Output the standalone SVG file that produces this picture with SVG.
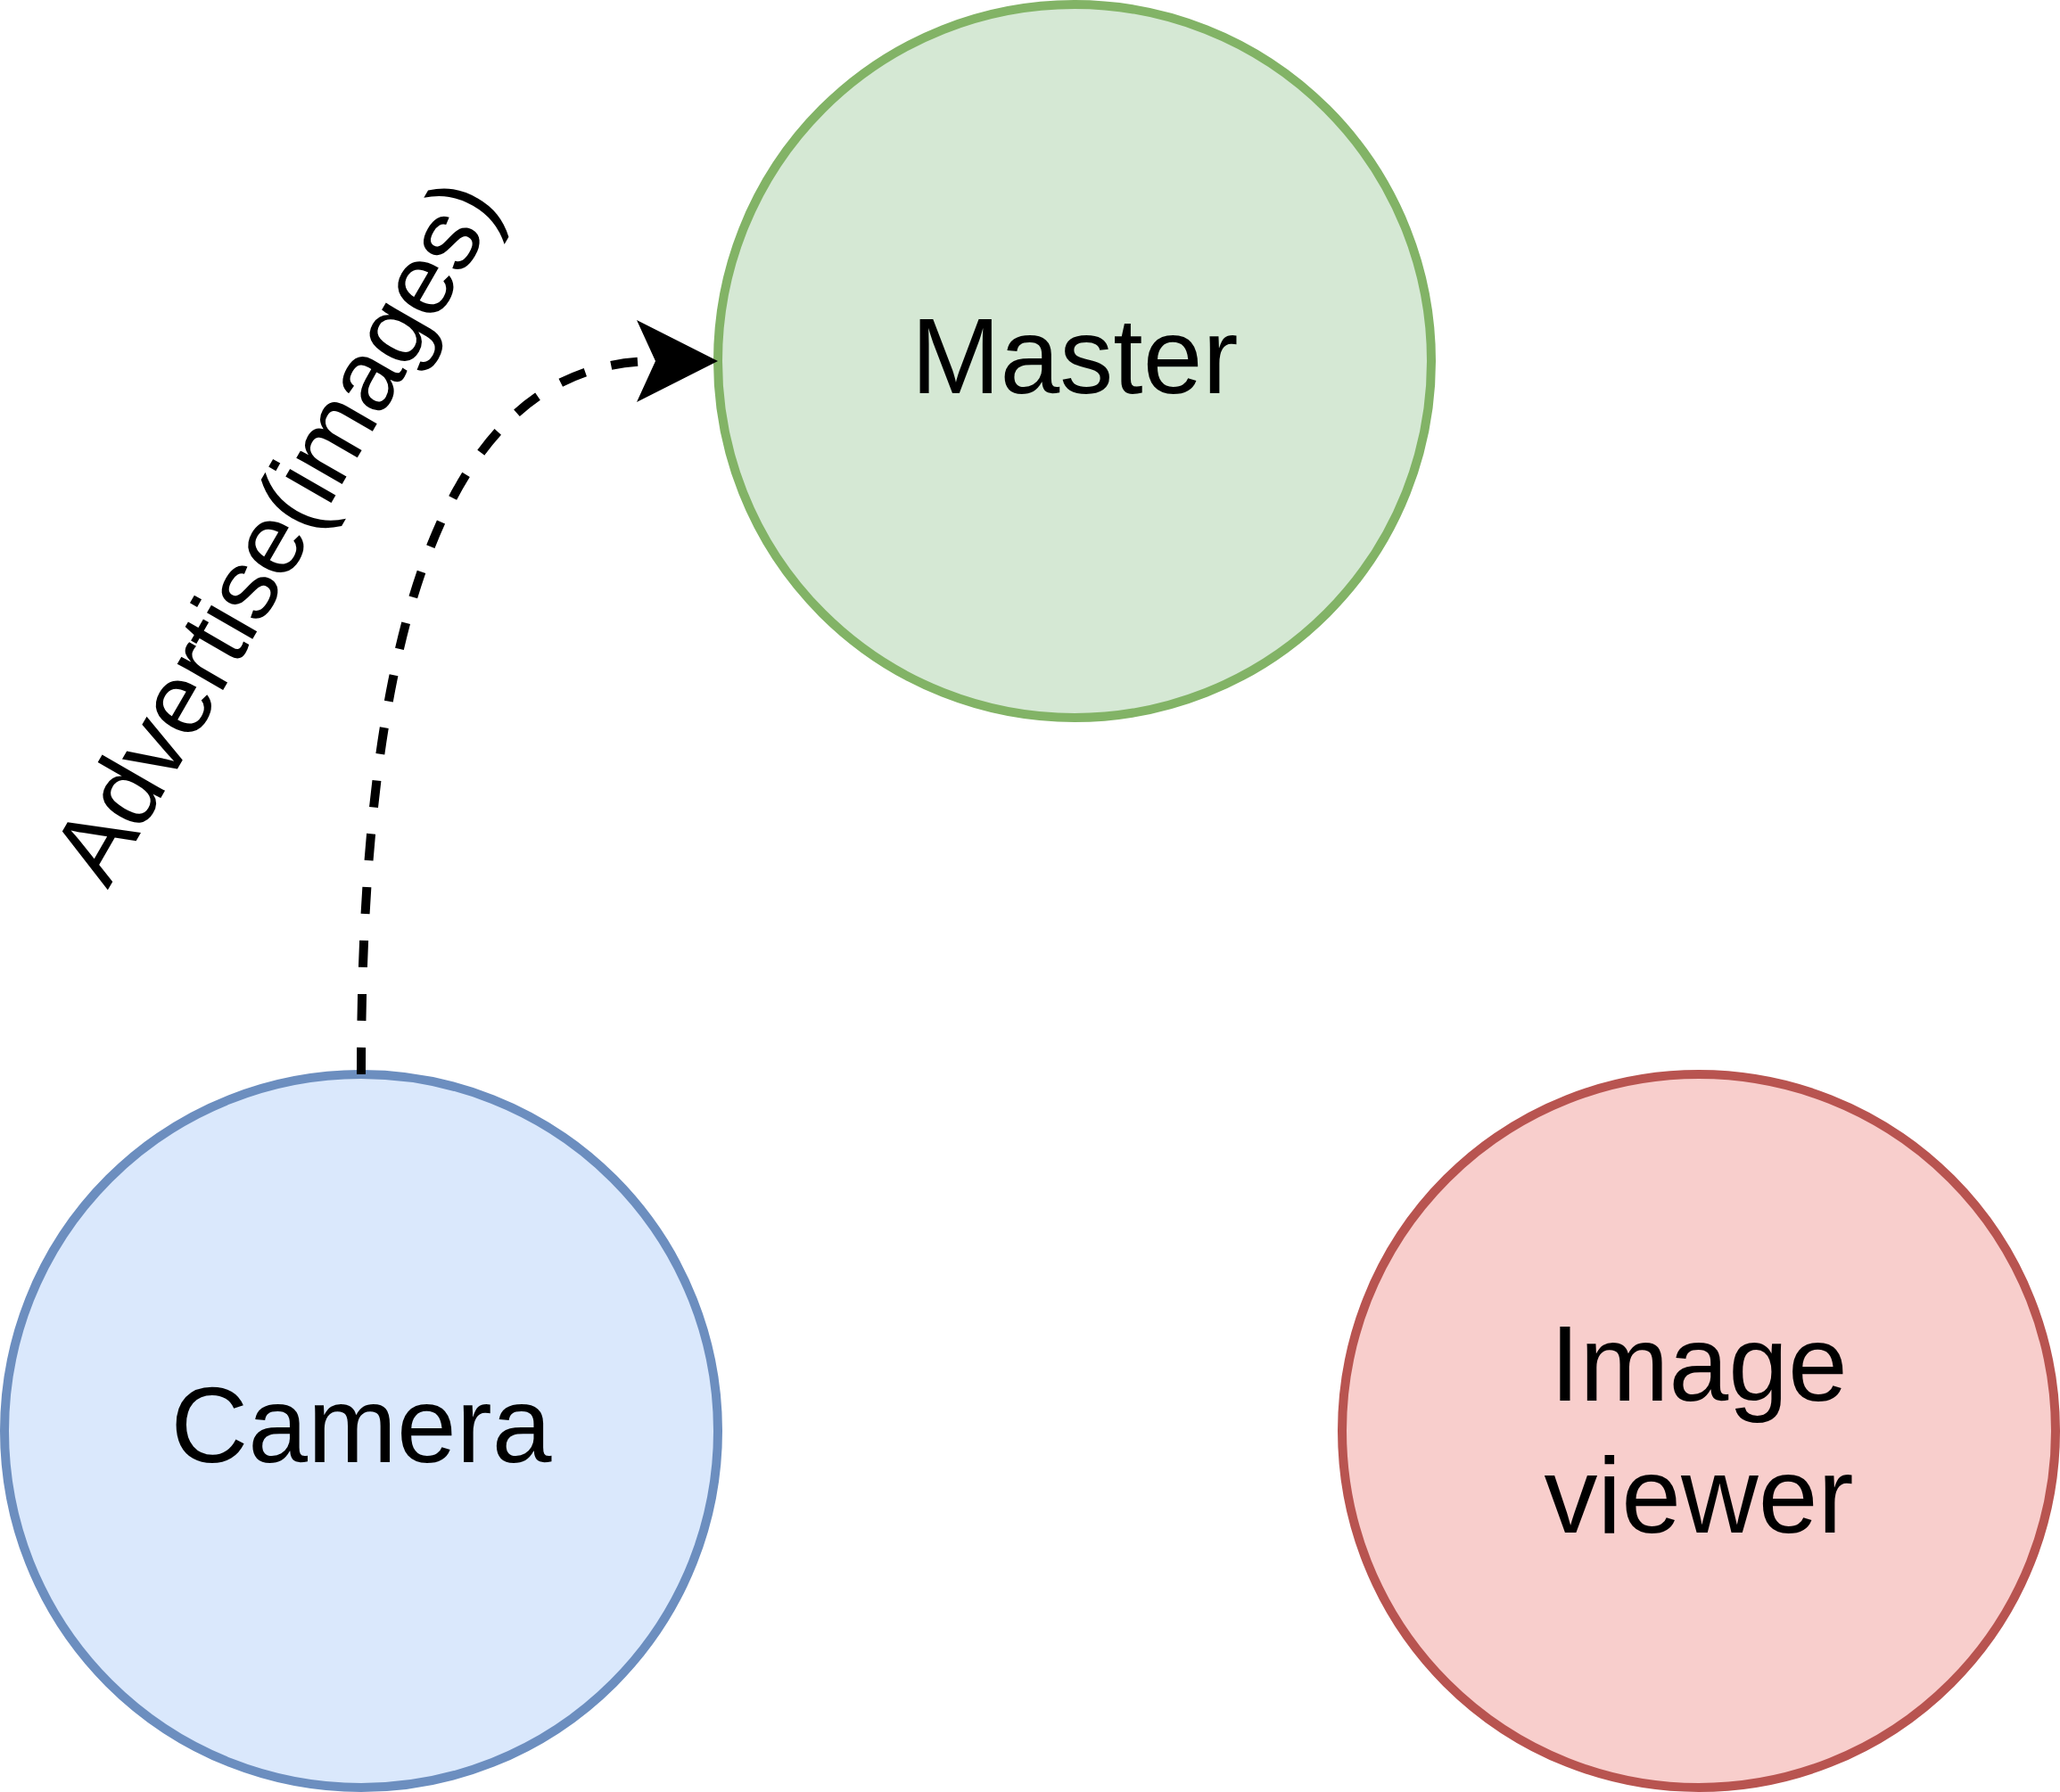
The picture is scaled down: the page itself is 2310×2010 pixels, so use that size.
<svg xmlns="http://www.w3.org/2000/svg" width="2310" height="2010" viewBox="0 0 2310 2010">
  <style>
    .node { stroke-width: 10; }
    .lbl { font-family: "Liberation Sans", Arial, Helvetica, sans-serif; font-size: 120px; fill: #000000; text-anchor: middle; }
    .edge { fill: none; stroke: #000000; stroke-width: 10; stroke-dasharray: 30 30; }
    .elbl { font-family: "Liberation Sans", Arial, Helvetica, sans-serif; font-size: 112px; fill: #000000; text-anchor: middle; letter-spacing: -1px; }
  </style>
  <defs>
    <marker id="arrow" markerUnits="userSpaceOnUse" viewBox="0 0 91 92" refX="21" refY="46" markerWidth="91" markerHeight="92" orient="auto">
      <path d="M0,0 L91,46 L0,92 L21,46 Z" fill="#000000" stroke="none"/>
    </marker>
  </defs>
  <rect x="0" y="0" width="2310" height="2010" fill="#ffffff"/>
  <g id="master">
    <circle class="node" cx="1205" cy="405" r="400" fill="#d5e8d4" stroke="#82b366"/>
    <text class="lbl" x="1205" y="441">Master</text>
  </g>
  <g id="camera">
    <circle class="node" cx="405" cy="1605" r="400" fill="#dae8fc" stroke="#6c8ebf"/>
    <text class="lbl" x="405" y="1640">Camera</text>
  </g>
  <g id="image-viewer">
    <circle class="node" cx="1905" cy="1605" r="400" fill="#f8cecc" stroke="#b85450"/>
    <text class="lbl" x="1905" y="1571">Image</text>
    <text class="lbl" x="1905" y="1719">viewer</text>
  </g>
  <g id="connectors">
    <path class="edge" d="M405,1205 C405,700 500,405 735,405" marker-end="url(#arrow)"/>
    <text class="elbl" transform="translate(342,615) rotate(-60)" x="0" y="0">Advertise(images)</text>
  </g>
</svg>
